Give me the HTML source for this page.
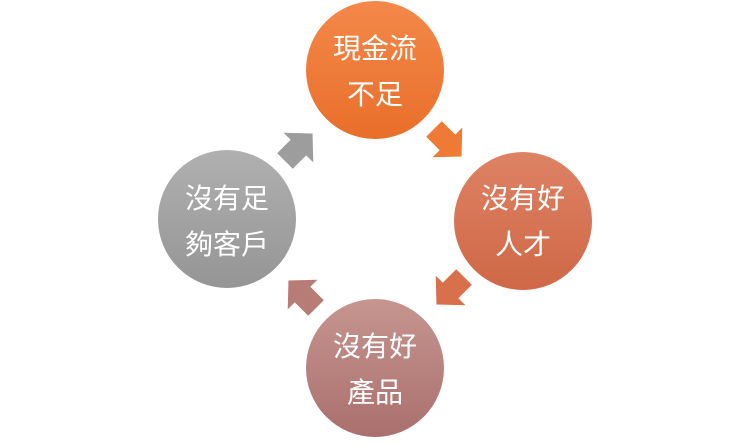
<!DOCTYPE html>
<html><head><meta charset="utf-8"><style>
body{margin:0;width:750px;height:439px;background:#fff;overflow:hidden}
svg text{font-family:"Liberation Sans","Noto Sans CJK TC",sans-serif;font-size:28px;fill:#fff;text-anchor:middle}
</style></head><body>
<svg width="750" height="439" viewBox="0 0 750 439">
<defs>
<linearGradient id="g1" x1="0" y1="0" x2="0" y2="1"><stop offset="0" stop-color="#f4884a"/><stop offset="1" stop-color="#e86f2a"/></linearGradient>
<linearGradient id="g2" x1="0" y1="0" x2="0" y2="1"><stop offset="0" stop-color="#dd8264"/><stop offset="1" stop-color="#cf6846"/></linearGradient>
<linearGradient id="g3" x1="0" y1="0" x2="0" y2="1"><stop offset="0" stop-color="#c79590"/><stop offset="1" stop-color="#a9706d"/></linearGradient>
<linearGradient id="g4" x1="0" y1="0" x2="0" y2="1"><stop offset="0" stop-color="#b0b0b0"/><stop offset="1" stop-color="#959595"/></linearGradient>
<path id="ar" d="M-17,-11 L2,-11 L2,-21 L22,0 L2,21 L2,11 L-17,11 Z"/>
</defs>
<circle cx="375" cy="70" r="69" fill="url(#g1)"/>
<circle cx="523" cy="221" r="69" fill="url(#g2)"/>
<circle cx="375" cy="368" r="69" fill="url(#g3)"/>
<circle cx="227" cy="219" r="69" fill="url(#g4)"/>
<use href="#ar" transform="translate(446,141) rotate(45)" fill="#ee7a36"/>
<use href="#ar" transform="translate(452,289) rotate(135)" fill="#d9704c"/>
<use href="#ar" transform="translate(304,296) rotate(225)" fill="#b87c76"/>
<use href="#ar" transform="translate(297,149) rotate(315)" fill="#9d9d9d"/>
<text x="375" y="58">現金流</text><text x="375" y="104">不足</text>
<text x="523" y="208">沒有好</text><text x="523" y="254">人才</text>
<text x="375" y="356">沒有好</text><text x="375" y="402">產品</text>
<text x="227" y="208">沒有足</text><text x="227" y="254">夠客戶</text>
</svg>
</body></html>
